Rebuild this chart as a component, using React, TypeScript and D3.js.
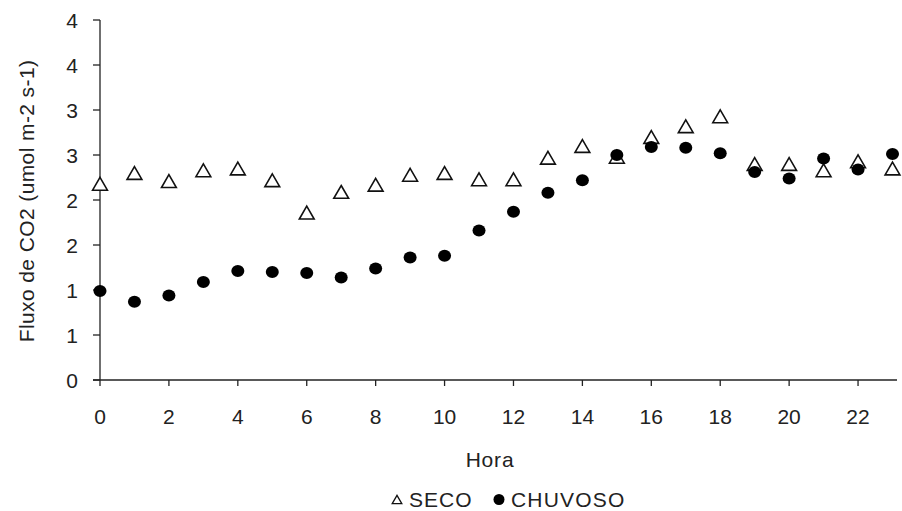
import React from "react";
import * as d3 from "d3";

const hours = [0,1,2,3,4,5,6,7,8,9,10,11,12,13,14,15,16,17,18,19,20,21,22,23];
const seco = [2.18,2.30,2.21,2.33,2.35,2.22,1.86,2.09,2.17,2.28,2.30,2.23,2.23,2.47,2.60,2.48,2.70,2.82,2.93,2.40,2.40,2.33,2.43,2.35];
const chuvoso = [0.99,0.87,0.94,1.09,1.21,1.20,1.19,1.14,1.24,1.36,1.38,1.66,1.87,2.08,2.22,2.50,2.59,2.58,2.52,2.31,2.24,2.46,2.34,2.51];
const yTicks = [0,0.5,1,1.5,2,2.5,3,3.5,4];
const yTickLabels = ["0","1","1","2","2","3","3","4","4"];
const xTicks = [0,2,4,6,8,10,12,14,16,18,20,22];
const seriesNames = ["SECO", "CHUVOSO"];

const W = 902, H = 511;
const FONT = "'Liberation Sans', Arial, sans-serif";
const FS = 21;

export default function App() {
  const x = d3.scaleLinear().domain([0, 23]).range([100, 892.5]);
  const y = d3.scaleLinear().domain([0, 4]).range([380, 20]);
  const triSize = 95;
  const tri = d3.symbol().type(d3.symbolTriangle).size(triSize)();
  const triOff = Math.sqrt(triSize / (Math.sqrt(3) * 3)) / 2;
  const triSmallSize = 40;
  const triSmall = d3.symbol().type(d3.symbolTriangle).size(triSmallSize)();
  const triSmallOff = Math.sqrt(triSmallSize / (Math.sqrt(3) * 3)) / 2;
  const axisColor = "#222";
  const textColor = "#222";
  return (
    <svg width={W} height={H} style={{ position: "absolute", left: 0, top: 0, background: "#fff" }} fontFamily={FONT}>
      {/* y axis */}
      <line x1={x(0)} x2={x(0)} y1={y(4)} y2={y(0)} stroke={axisColor} strokeWidth={1.3} />
      {yTicks.map((t, i) => (
        <g key={"yt" + i}>
          <line x1={x(0) - 7} x2={x(0)} y1={y(t)} y2={y(t)} stroke={axisColor} strokeWidth={1.3} />
          <text x={78} y={y(t)} dy="0.36em" textAnchor="end" fontSize={FS} fill={textColor}>
            {yTickLabels[i]}
          </text>
        </g>
      ))}
      {/* x axis */}
      <line x1={x(0) - 7} x2={897} y1={y(0)} y2={y(0)} stroke={axisColor} strokeWidth={1.3} />
      {xTicks.map((t) => (
        <g key={"xt" + t}>
          <line x1={x(t)} x2={x(t)} y1={y(0)} y2={y(0) + 6} stroke={axisColor} strokeWidth={1.3} />
          <text x={x(t)} y={416.5} dy="0.36em" textAnchor="middle" fontSize={FS} fill={textColor}>{t}</text>
        </g>
      ))}
      {/* titles */}
      <text x={490} y={459.5} dy="0.36em" textAnchor="middle" fontSize={FS} letterSpacing={0.8} fill={textColor}>Hora</text>
      <text transform={`translate(26,201) rotate(-90)`} dy="0.36em" textAnchor="middle" fontSize={FS} letterSpacing={0.4} fill={textColor}>
        Fluxo de CO2 (umol m-2 s-1)
      </text>
      {/* series */}
      {hours.map((h, i) => (
        <path key={"s" + h} d={tri} transform={`translate(${x(h)},${y(seco[i]) + triOff})`} fill="#fff" stroke="#111" strokeWidth={1.6} />
      ))}
      {hours.map((h, i) => (
        <ellipse key={"c" + h} cx={x(h)} cy={y(chuvoso[i])} rx={6.5} ry={6} fill="#000" />
      ))}
      {/* legend */}
      <path d={triSmall} transform={`translate(397,${499.5 + triSmallOff})`} fill="#fff" stroke="#111" strokeWidth={1.3} />
      <text x={409} y={499.5} dy="0.36em" fontSize={FS} letterSpacing={1} fill={textColor}>{seriesNames[0]}</text>
      <circle cx={499} cy={499.5} r={5.5} fill="#000" />
      <text x={511} y={499.5} dy="0.36em" fontSize={FS} letterSpacing={1.2} fill={textColor}>{seriesNames[1]}</text>
    </svg>
  );
}
